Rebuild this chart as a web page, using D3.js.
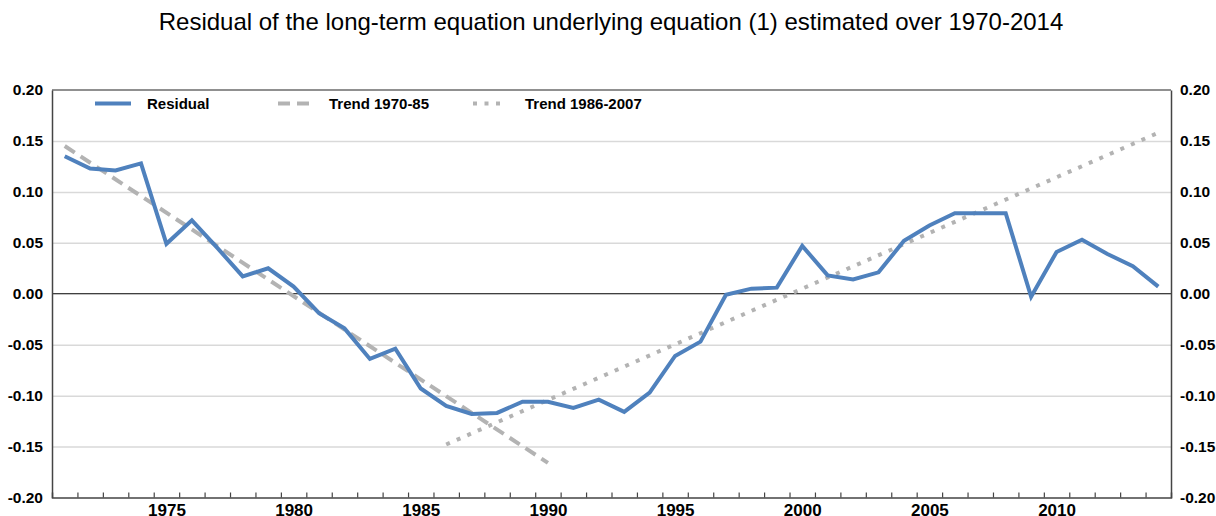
<!DOCTYPE html>
<html>
<head>
<meta charset="utf-8">
<script src="https://cdn.jsdelivr.net/npm/d3@7"></script>
<style>
  body { margin: 0; background: #fff; }
  svg { display: block; font-family: Arial, "Liberation Sans", sans-serif; }
</style>
</head>
<body>
<svg class="chart"></svg>
<script>
// data
const years = d3.range(1971, 2015)
const residual = [
  0.135, 0.123, 0.121, 0.128, 0.049, 0.072, 0.045, 0.017, 0.025, 0.007,
  -0.019, -0.034, -0.064, -0.054, -0.093, -0.110, -0.118, -0.117, -0.106, -0.106,
  -0.112, -0.104, -0.116, -0.097, -0.061, -0.047, -0.001, 0.005, 0.006, 0.047,
  0.018, 0.014, 0.021, 0.052, 0.067, 0.079, 0.079, 0.079, -0.003, 0.041,
  0.053, 0.039, 0.027, 0.007
]
// trend lines, end points only
const trendYears1 = [1971, 1990]
const trendValues1 = [0.145, -0.166]
const trendYears2 = [1986, 2014]
const trendValues2 = [-0.148, 0.158]

const yTicks = [-0.20, -0.15, -0.10, -0.05, 0.00, 0.05, 0.10, 0.15, 0.20]
const yearLabels = [1975, 1980, 1985, 1990, 1995, 2000, 2005, 2010]
const legendLabels = ['Residual', 'Trend 1970-85', 'Trend 1986-2007']
const titleText = 'Residual of the long-term equation underlying equation (1) estimated over 1970-2014'

const W = 1216
const H = 516
const plotLeft = 52
const plotRight = 1171
const plotTop = 90
const plotBottom = 497.5

const blue = '#4f81bd'
const grey = '#b3b3b3'
const font = 'Arial, "Liberation Sans", sans-serif'

const svg = d3.select('.chart')
  .attr('width', W)
  .attr('height', H)

const x = d3.scaleLinear()
  .domain([years[0] - 0.5, years[years.length - 1] + 0.5])
  .range([plotLeft, plotRight])

const y = d3.scaleLinear()
  .domain([-0.2, 0.2])
  .range([plotBottom, plotTop])

// title
svg.append('text')
  .attr('x', 611)
  .attr('y', 30)
  .attr('text-anchor', 'middle')
  .attr('font-size', 24)
  .attr('fill', '#000')
  .text(titleText)

// gridlines
svg.append('g')
  .attr('transform', `translate(${plotLeft},0)`)
  .call(d3.axisLeft(y).tickValues(yTicks.filter(d => d !== 0 && Math.abs(d) < 0.2)).tickSize(-(plotRight - plotLeft)).tickFormat(''))
  .call(g => g.select('.domain').remove())
  .call(g => g.selectAll('line').attr('stroke', '#d9d9d9').attr('stroke-width', 1.5))

// zero line
svg.append('line')
  .attr('x1', plotLeft).attr('x2', plotRight)
  .attr('y1', y(0)).attr('y2', y(0))
  .attr('stroke', '#000')
  .attr('stroke-width', 1.2)

// frame: top border
svg.append('line')
  .attr('x1', plotLeft).attr('x2', plotRight)
  .attr('y1', plotTop).attr('y2', plotTop)
  .attr('stroke', '#222')
  .attr('stroke-width', 1.2)

// left axis
svg.append('g')
  .attr('transform', `translate(${plotLeft},0)`)
  .call(d3.axisLeft(y).tickValues(yTicks).tickSize(0).tickPadding(9).tickFormat(d => d.toFixed(2)))
  .call(g => g.select('.domain').attr('stroke', '#444').attr('stroke-width', 1.5))
  .call(g => g.selectAll('text').attr('font-size', 15.5).attr('font-weight', 'bold').attr('fill', '#000').attr('font-family', font))

// right axis
svg.append('g')
  .attr('transform', `translate(${plotRight},0)`)
  .call(d3.axisRight(y).tickValues(yTicks).tickSize(0).tickPadding(9).tickFormat(d => d.toFixed(2)))
  .call(g => g.select('.domain').attr('stroke', '#444').attr('stroke-width', 1.5))
  .call(g => g.selectAll('text').attr('font-size', 15.5).attr('font-weight', 'bold').attr('fill', '#000').attr('font-family', font))

// bottom axis: small inward ticks between years
svg.append('g')
  .attr('transform', `translate(0,${plotBottom})`)
  .call(d3.axisBottom(x).tickValues(years.slice(0, -1).map(d => d + 0.5)).tickSize(-5).tickFormat(''))
  .call(g => g.select('.domain').attr('stroke', '#444').attr('stroke-width', 1.5))
  .call(g => g.selectAll('line').attr('stroke', '#444').attr('stroke-width', 1.2))

// bottom axis labels
svg.append('g')
  .attr('transform', `translate(0,${plotBottom})`)
  .call(d3.axisBottom(x).tickValues(yearLabels).tickSize(0).tickPadding(6).tickFormat(d3.format('d')))
  .call(g => g.select('.domain').remove())
  .call(g => g.selectAll('text').attr('font-size', 17).attr('font-weight', 'bold').attr('fill', '#000').attr('font-family', font))

const line = d3.line()
  .x(d => x(d[0]))
  .y(d => y(d[1]))

// trend 1970-85
svg.append('path')
  .datum(d3.zip(trendYears1, trendValues1))
  .attr('d', line)
  .attr('fill', 'none')
  .attr('stroke', grey)
  .attr('stroke-width', 4)
  .attr('stroke-dasharray', '12,7')

// trend 1986-2007
svg.append('path')
  .datum(d3.zip(trendYears2, trendValues2))
  .attr('d', line)
  .attr('fill', 'none')
  .attr('stroke', grey)
  .attr('stroke-width', 4)
  .attr('stroke-dasharray', '4,7.5')

// residual
svg.append('path')
  .datum(d3.zip(years, residual))
  .attr('d', line)
  .attr('fill', 'none')
  .attr('stroke', blue)
  .attr('stroke-width', 4)
  .attr('stroke-linejoin', 'miter')

// legend
const legendX = [95, 278, 473]
const legendW = [36, 36, 30]
const legendDash = [null, '12,7', '4,7.5']
const legendColor = [blue, grey, grey]
const legendTextX = [147, 329, 525]
const legendY = 103.5

const legend = svg.append('g').attr('class', 'legend')
legendLabels.forEach((label, i) => {
  legend.append('line')
    .attr('x1', legendX[i]).attr('x2', legendX[i] + legendW[i])
    .attr('y1', legendY).attr('y2', legendY)
    .attr('stroke', legendColor[i])
    .attr('stroke-width', 4)
    .attr('stroke-dasharray', legendDash[i])
  legend.append('text')
    .attr('x', legendTextX[i])
    .attr('y', legendY + 5.5)
    .attr('font-size', 15)
    .attr('font-weight', 'bold')
    .attr('fill', '#000')
    .text(label)
})
</script>
</body>
</html>
